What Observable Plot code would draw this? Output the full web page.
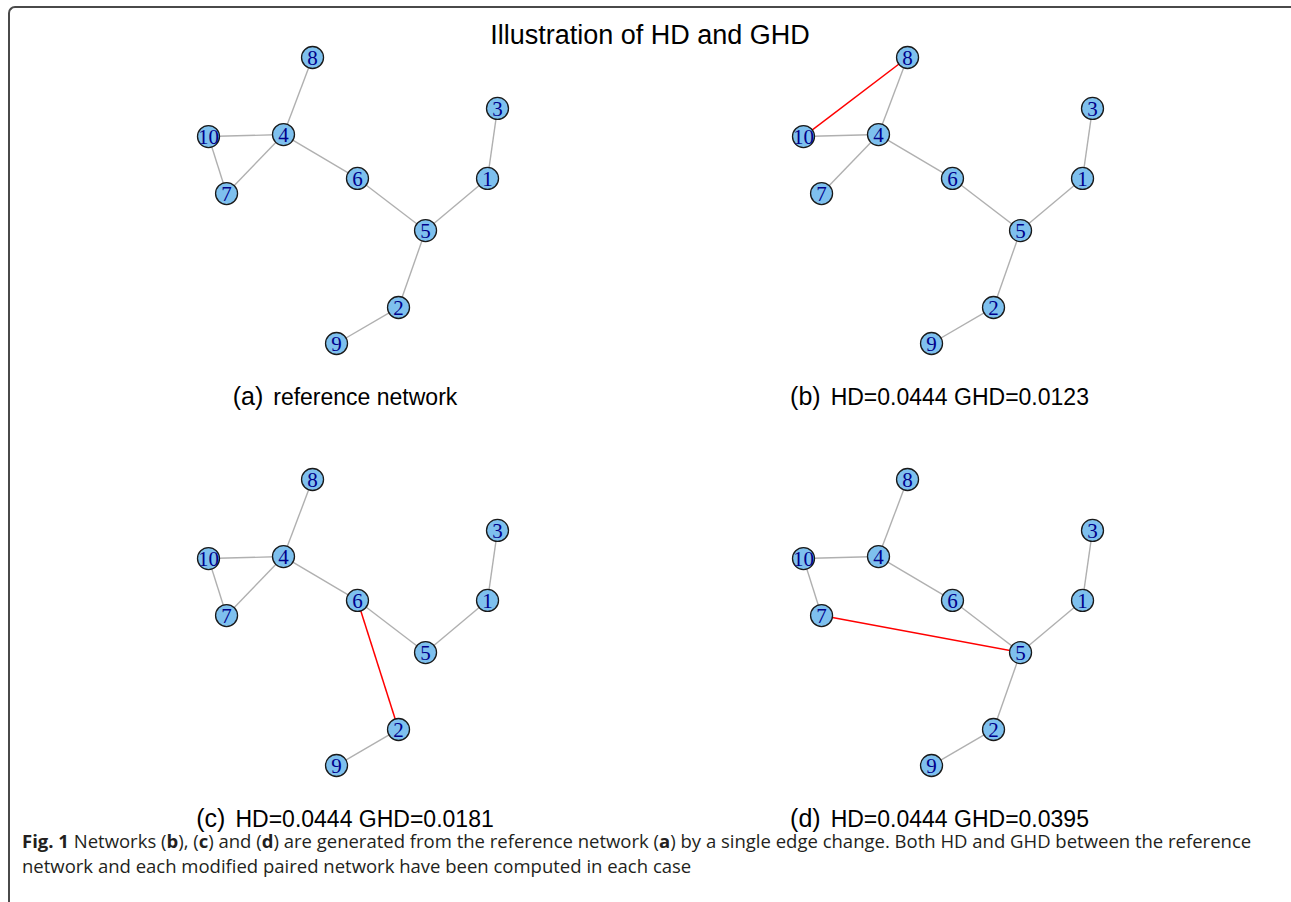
<!DOCTYPE html>
<html>
<head>
<meta charset="utf-8">
<script src="https://cdn.jsdelivr.net/npm/d3@7"></script>
<script src="https://cdn.jsdelivr.net/npm/@observablehq/plot@0.6"></script>
<style>
  html, body { margin: 0; padding: 0; background: #fff; }
  body { width: 1291px; height: 902px; position: relative; overflow: hidden; }
  .frame { position: absolute; left: 8px; top: 6px; right: -20px; bottom: -20px;
           border-top: 2px solid #4a4a4a; border-left: 2px solid #4a4a4a; border-top-left-radius: 7px; }
  .panel { position: absolute; }
  .panel svg { background: transparent !important; }
  .title { position: absolute; left: 0; width: 1300px; top: 22px; text-align: center;
           font-family: "Liberation Sans", Arial, sans-serif; font-size: 27px; line-height: 26px; color: #000; }
  .cap { position: absolute; width: 600px; text-align: center; white-space: nowrap;
         font-family: "Liberation Sans", Arial, sans-serif; font-size: 23px; line-height: 20px; color: #000; }
  .cap .lt { font-size: 25px; margin-right: 10px; }
  .figline { position: absolute; left: 22px; white-space: nowrap;
             font-family: "Open Sans", "Noto Sans", sans-serif; font-size: 18.5px; line-height: 20px; color: #231f20; }
</style>
</head>
<body>
<div class="frame"></div>
<div id="root"></div>
<script>
// ---- data ----
const nodeIds = [1, 2, 3, 4, 5, 6, 7, 8, 9, 10];
const nodeX = [0.931, 0.315, 1.0, -0.481, 0.502, 0.031, -0.875, -0.280, -0.114, -1.0];
const nodeY = [0.157, -0.742, 0.645, 0.463, -0.206, 0.157, 0.052, 1.0, -0.993, 0.449];

const referenceEdges = [[4, 8], [4, 10], [7, 10], [4, 7], [4, 6], [5, 6], [1, 5], [1, 3], [2, 5], [2, 9]];
const removedEdges = [null, [7, 10], [2, 5], [4, 7]];
const addedEdges = [null, [8, 10], [2, 6], [5, 7]];

const panelLetters = ["(a)", "(b)", "(c)", "(d)"];
const hdValues = [null, 0.0444, 0.0444, 0.0444];
const ghdValues = [null, 0.0123, 0.0181, 0.0395];
const titleText = "Illustration of HD and GHD";
const figCaptionLines = [
  "<b>Fig. 1</b> Networks (<b>b</b>), (<b>c</b>) and (<b>d</b>) are generated from the reference network (<b>a</b>) by a single edge change. Both HD and GHD between the reference",
  "network and each modified paired network have been computed in each case"
];

// ---- layout ----
const PW = 595, PH = 421, DX = 594.5, DY = 422;
const root = document.getElementById("root");

const title = document.createElement("div");
title.className = "title";
title.textContent = titleText;

const px = id => nodeX[nodeIds.indexOf(id)];
const py = id => nodeY[nodeIds.indexOf(id)];
const same = (e, f) => f && ((e[0] === f[0] && e[1] === f[1]) || (e[0] === f[1] && e[1] === f[0]));

const nodes = nodeIds.map((id, i) => ({id, x: nodeX[i], y: nodeY[i]}));

panelLetters.forEach((letter, i) => {
  const col = i % 2, row = Math.floor(i / 2);
  const grey = referenceEdges.filter(e => !same(e, removedEdges[i]));
  const red = addedEdges[i] ? [addedEdges[i]] : [];
  const chart = Plot.plot({
    width: PW, height: PH,
    marginLeft: 208, marginRight: 98, marginTop: 57, marginBottom: 77,
    x: {domain: [-1, 1], axis: null},
    y: {domain: [-1, 1], axis: null},
    style: {background: "transparent", overflow: "visible"},
    marks: [
      Plot.link(grey, {x1: d => px(d[0]), y1: d => py(d[0]), x2: d => px(d[1]), y2: d => py(d[1]),
        stroke: "#b0b0b0", strokeWidth: 1.4}),
      Plot.link(red, {x1: d => px(d[0]), y1: d => py(d[0]), x2: d => px(d[1]), y2: d => py(d[1]),
        stroke: "#ff0000", strokeWidth: 1.5}),
      Plot.dot(nodes, {x: "x", y: "y", r: 11, fill: "#7ec0ee", stroke: "#1a1a1a", strokeWidth: 1.3, fillOpacity: 1}),
      Plot.text(nodes, {x: "x", y: "y", text: d => String(d.id), fill: "#00008b",
        fontFamily: "Liberation Serif, Times New Roman, serif", fontSize: 21, dy: 1})
    ]
  });
  const wrap = document.createElement("div");
  wrap.className = "panel";
  wrap.style.left = (col * DX) + "px";
  wrap.style.top = (row * DY) + "px";
  wrap.appendChild(chart);
  root.appendChild(wrap);

  const cap = document.createElement("div");
  cap.className = "cap";
  cap.style.left = (col * DX + 345 - 300) + "px";
  cap.style.top = (row * DY + 386) + "px";
  const lt = document.createElement("span");
  lt.className = "lt";
  lt.textContent = letter;
  cap.appendChild(lt);
  const rest = document.createElement("span");
  rest.textContent = hdValues[i] == null ? "reference network"
    : `HD=${hdValues[i].toFixed(4)} GHD=${ghdValues[i].toFixed(4)}`;
  cap.appendChild(rest);
  root.appendChild(cap);
});
root.appendChild(title);

figCaptionLines.forEach((html, k) => {
  const line = document.createElement("div");
  line.className = "figline";
  line.style.top = (831 + k * 25) + "px";
  line.innerHTML = html;
  root.appendChild(line);
});
</script>
</body>
</html>
